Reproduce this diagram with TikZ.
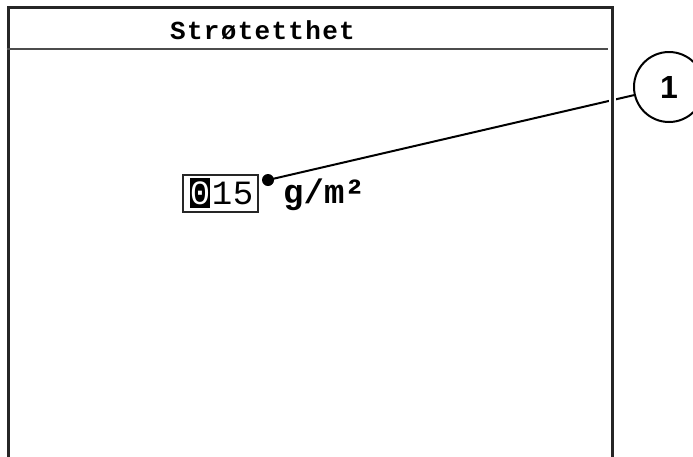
\documentclass[tikz,border=0pt]{standalone}
\usepackage{fontspec}
\newfontfamily\lcdfont{Liberation Mono}
\newfontfamily\lcdtitle[LetterSpace=5]{Liberation Mono}
\newfontfamily\calloutfont{Liberation Sans}
\usetikzlibrary{positioning}
\tikzset{
  frameline/.style={line width=3pt, black!85, preaction={draw, white, line width=7pt}},
  titleline/.style={line width=2.5pt, black!70},
  digit/.style={inner sep=0pt, minimum width=20pt, minimum height=30pt,
    font=\lcdfont\fontsize{34}{34}\selectfont},
  callout/.style={draw, circle, line width=2pt, minimum size=70pt, inner sep=0pt,
    font=\calloutfont\bfseries\fontsize{32}{32}\selectfont},
}

\begin{document}
\begin{tikzpicture}[x=1pt,y=-1pt]
\useasboundingbox (0,0) rectangle (693,456);
\fill (268,180) circle (6) coordinate (dot);
\node[callout] (num) at (669,87) {1};
\draw[line width=2pt] (dot) -- (num);
\draw[frameline] (8,470) -- (8,7) -- (612,7) -- (612,470);
\draw[titleline] (6.5,49) -- (608,49);
\node[anchor=base west, inner sep=0pt, font=\lcdtitle\bfseries\fontsize{26}{26}\selectfont] (title) at (170,39) {Strøtetthet};
\node[draw, line width=1.5pt, black!85, minimum width=75pt, minimum height=37pt, inner sep=0pt] (valbox) at (220.5,193.5) {};
\node[digit, fill=black, text=white] (d0) at (200,193) {0};
\node[digit] (d1) at (222,193) {1};
\node[digit] (d2) at (243,193) {5};
\node[anchor=base west, inner sep=0pt, font=\lcdfont\bfseries\fontsize{34}{34}\selectfont] (unit) at (283,203) {g/m²};
\end{tikzpicture}
\end{document}
